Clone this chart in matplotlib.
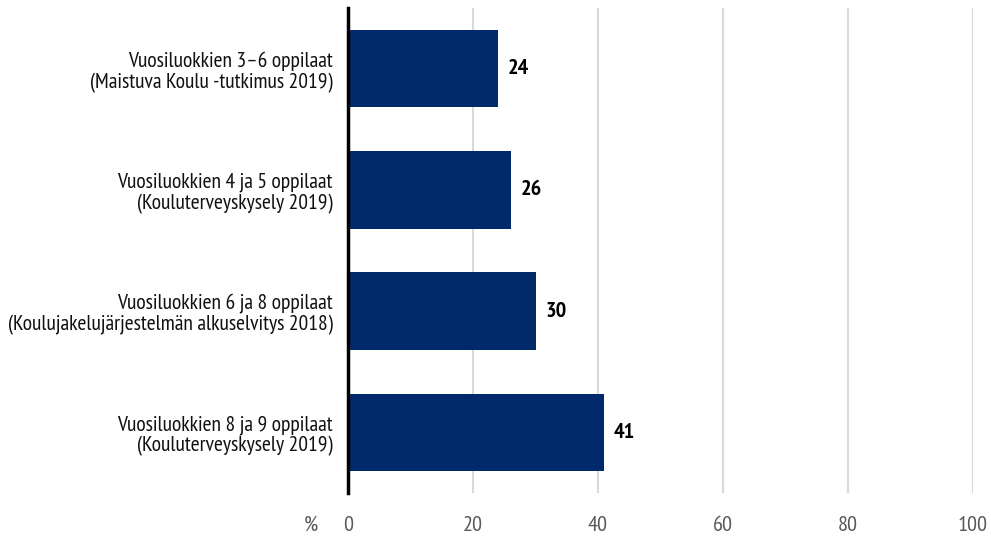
import matplotlib
matplotlib.use("Agg")
import matplotlib.pyplot as plt

categories = [
    "Vuosiluokkien 3–6 oppilaat\n(Maistuva Koulu -tutkimus 2019)",
    "Vuosiluokkien 4 ja 5 oppilaat\n(Kouluterveyskysely 2019)",
    "Vuosiluokkien 6 ja 8 oppilaat\n(Koulujakelujärjestelmän alkuselvitys 2018)",
    "Vuosiluokkien 8 ja 9 oppilaat\n(Kouluterveyskysely 2019)",
]
values = [24, 26, 30, 41]
xticks = [0, 20, 40, 60, 80, 100]
unit_label = "%"

plt.rcParams["font.family"] = ["PT Sans Narrow", "DejaVu Sans"]

fig = plt.figure(figsize=(9.91, 5.36), dpi=100)
ax = fig.add_axes([348 / 991, 1 - 493 / 536, 625 / 991, 485 / 536])

bar_color = "#002a6a"
ypos = list(range(len(categories)))
ax.barh(ypos, values, height=0.64, color=bar_color, zorder=3)
for y, v in zip(ypos, values):
    ax.annotate(f"{v}", xy=(v, y), xytext=(7, 0), textcoords="offset points",
                va="center", ha="left", fontsize=16, fontweight="bold", color="black")

ax.set_xlim(0, 100)
ax.set_ylim(len(categories) - 0.5, -0.5)
ax.set_yticks(ypos)
ax.set_yticklabels(categories, fontsize=15.5, color="#111111", linespacing=1.12)
ax.set_xticks(xticks)
ax.set_xticklabels([str(t) for t in xticks], fontsize=16, color="#595959")
ax.tick_params(axis="y", length=0, pad=11)
ax.tick_params(axis="x", length=0, pad=16.5)

ax.grid(axis="x", color="#d9d9d9", linewidth=1.5, zorder=0)
for side in ("top", "right", "bottom"):
    ax.spines[side].set_visible(False)
ax.spines["left"].set_linewidth(2.5)
ax.spines["left"].set_color("black")
ax.spines["left"].set_zorder(4)

ax.annotate(unit_label, xy=(0, 0), xycoords="axes fraction", xytext=(-27, -16.5),
            textcoords="offset points", ha="center", va="top", fontsize=16, color="#595959")

fig.savefig("out.png", dpi=100)
